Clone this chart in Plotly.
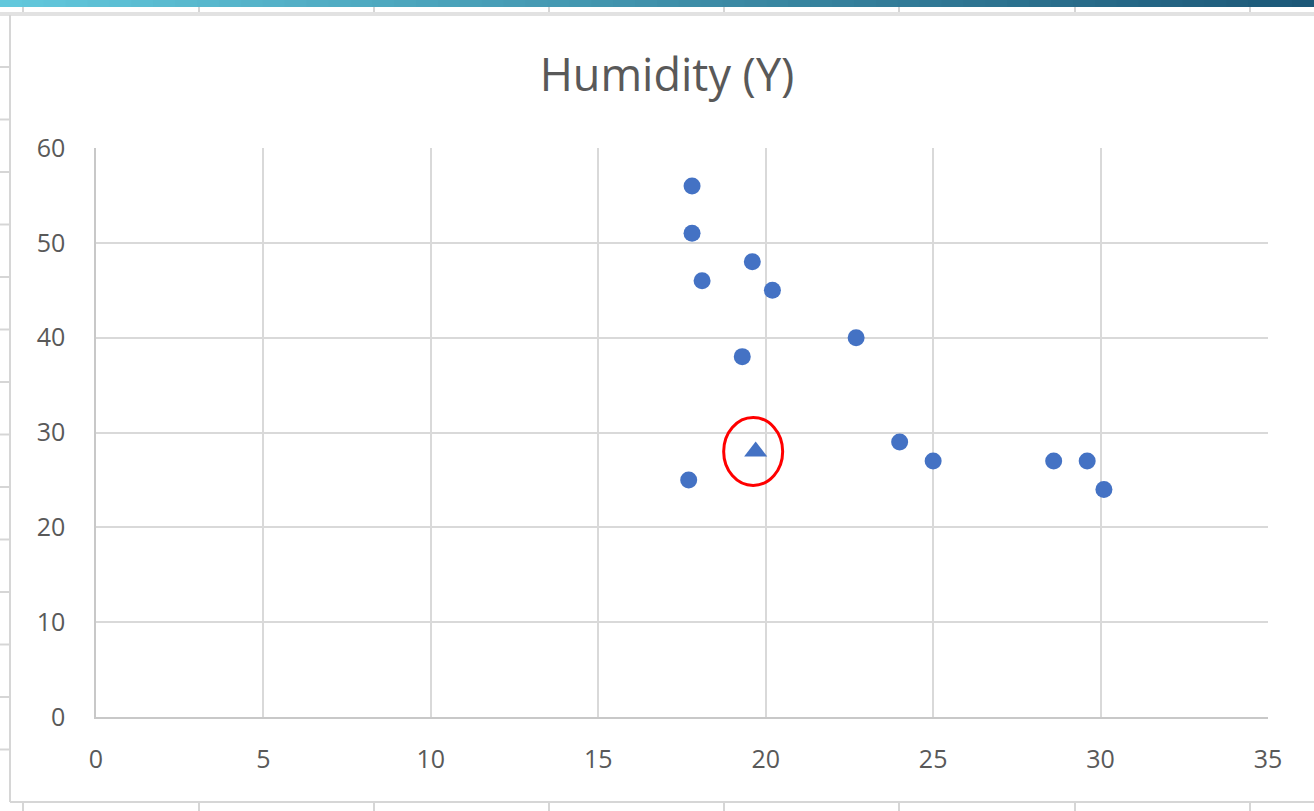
"""
Humidity (Y) scatter, Excel-style, with the sheet background around it.
"""
import plotly.graph_objects as go

# temperature (X) and humidity (Y) readings
temperature = [17.8, 17.8, 18.1, 19.6, 20.2, 19.3, 22.7, 24.0, 25.0, 28.6, 29.6, 30.1, 17.7]
humidity = [56, 51, 46, 48, 45, 38, 40, 29, 27, 27, 27, 24, 25]

# the predicted point, marked with a triangle and circled
predicted_x = [19.7]
predicted_y = [28]

x_ticks = [0, 5, 10, 15, 20, 25, 30, 35]
y_ticks = [0, 10, 20, 30, 40, 50, 60]

W, H = 1314, 811
L, R, T, B = 96, 46, 148, 94
PW, PH = W - L - R, H - T - B


def px(x):
    return (x - L) / PW


def py(y):
    return (H - B - y) / PH


def lerp_color(c1, c2, t):
    a = [int(c1[i:i + 2], 16) for i in (1, 3, 5)]
    b = [int(c2[i:i + 2], 16) for i in (1, 3, 5)]
    return 'rgb({},{},{})'.format(*[round(a[k] + (b[k] - a[k]) * t) for k in range(3)])


fig = go.Figure()

fig.add_trace(go.Scatter(
    x=temperature,
    y=humidity,
    mode='markers',
    marker=dict(color='#4472C4', size=17, line=dict(width=0)),
    showlegend=False
))

fig.add_trace(go.Scatter(
    x=predicted_x,
    y=predicted_y,
    mode='markers',
    marker=dict(color='#4472C4', size=20, symbol='triangle-up', line=dict(width=0)),
    showlegend=False
))

shapes = []

# spreadsheet decoration: gradient ribbon at the very top
steps = 60
for i in range(steps):
    x0 = W * i / steps
    x1 = W * (i + 1) / steps + 1
    shapes.append(dict(type='rect', xref='paper', yref='paper', layer='below',
                       x0=px(x0), x1=px(x1), y0=py(7), y1=py(-1),
                       fillcolor=lerp_color('#62c8dc', '#1c5878', i / (steps - 1)),
                       line=dict(width=0)))

sheet_line = dict(color='#d6d6d6', width=2)
# header bottom line
shapes.append(dict(type='rect', xref='paper', yref='paper', layer='below',
                   x0=px(0), x1=px(W), y0=py(16), y1=py(12),
                   fillcolor='#e2e2e2', line=dict(width=0)))
# left border of the chart object
shapes.append(dict(type='line', xref='paper', yref='paper', layer='below',
                   x0=px(10), x1=px(10), y0=py(15), y1=py(802), line=sheet_line))
# bottom border of the chart object
shapes.append(dict(type='line', xref='paper', yref='paper', layer='below',
                   x0=px(10), x1=px(W), y0=py(802), y1=py(802), line=sheet_line))
# column separators above and below
for cx in [23, 199, 374, 549, 724, 899, 1075, 1250]:
    shapes.append(dict(type='line', xref='paper', yref='paper', layer='below',
                       x0=px(cx), x1=px(cx), y0=py(7), y1=py(12), line=sheet_line))
    shapes.append(dict(type='line', xref='paper', yref='paper', layer='below',
                       x0=px(cx), x1=px(cx), y0=py(802), y1=py(H), line=sheet_line))
# row separators on the left
for i in range(14):
    ry = 67 + 52.5 * i
    shapes.append(dict(type='line', xref='paper', yref='paper', layer='below',
                       x0=px(0), x1=px(10), y0=py(ry), y1=py(ry), line=sheet_line))

# red ring round the predicted point
shapes.append(dict(type='circle', xref='x', yref='y',
                   xsizemode='pixel', ysizemode='pixel',
                   xanchor=predicted_x[0], yanchor=predicted_y[0],
                   x0=-32, x1=27, y0=-34, y1=34,
                   line=dict(color='#ff0000', width=3)))

fig.update_layout(
    width=W,
    height=H,
    margin=dict(l=L, r=R, t=T, b=B),
    paper_bgcolor='white',
    plot_bgcolor='white',
    font=dict(family='Open Sans', color='#595959', size=25),
    title=dict(text='Humidity (Y)', x=px(667), xref='paper', xanchor='center',
               y=1 - 75 / H, yanchor='middle',
               font=dict(family='Open Sans', size=45, color='#595959')),
    shapes=shapes,
    showlegend=False,
    xaxis=dict(range=[0, 35], tickvals=x_ticks, showgrid=True, gridcolor='#d9d9d9',
               gridwidth=1.5, zeroline=False, showline=True, linecolor='#c8c8c8',
               linewidth=1.5, ticks='outside', ticklen=19, tickcolor='rgba(0,0,0,0)',
               fixedrange=True),
    yaxis=dict(range=[0, 60], tickvals=y_ticks, showgrid=True, gridcolor='#d9d9d9',
               gridwidth=1.5, zeroline=False, showline=True, linecolor='#c8c8c8',
               linewidth=1.5, ticks='outside', ticklen=24, tickcolor='rgba(0,0,0,0)',
               fixedrange=True),
)

# page body margin would push the figure 8px right and down
fig.write_html("out.html", config={'displayModeBar': False},
               post_script="document.body.style.margin='0';")
